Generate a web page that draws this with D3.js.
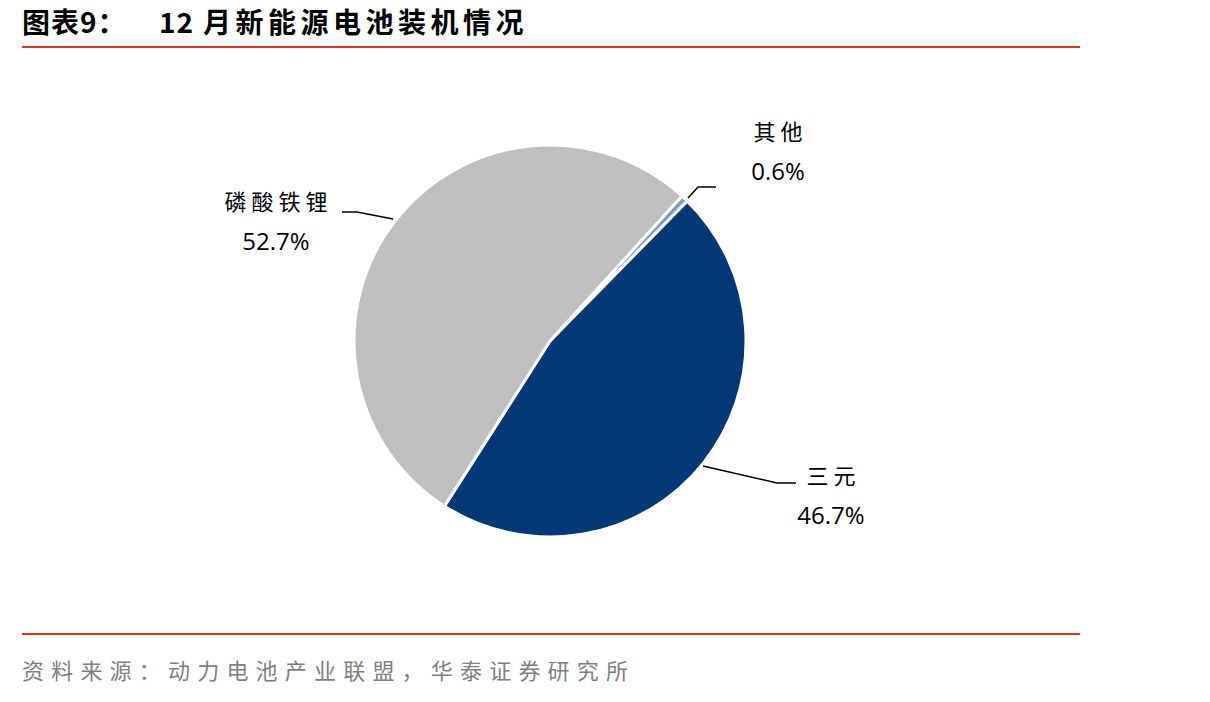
<!DOCTYPE html>
<html><head><meta charset="utf-8">
<script src="https://cdn.jsdelivr.net/npm/d3@7"></script>
<style>body{margin:0;background:#fff;} svg{display:block;}</style>
</head><body>
<svg id="c" width="1210" height="702"></svg>
<script>
const categories = ["其他", "三元", "磷酸铁锂"];
const values = [0.6, 46.7, 52.7];
const labels = ["0.6%", "46.7%", "52.7%"];
const colors = ["#7F9CC0", "#003878", "#BFBFBF"];
const titleParts = ["图表9：", "12", "月新能源电池装机情况"];
const source = "资料来源：动力电池产业联盟，华泰证券研究所";

const svg = d3.select("#c");
const cx = 550, cy = 341, r = 196;
const start = 42.3 * Math.PI / 180;

// title
const tx = [22, 159, 203], tls = [1, 1, 4.5];
titleParts.forEach((t, i) => svg.append("text").attr("x", tx[i]).attr("y", 33)
  .attr("font-family", "'Noto Sans CJK SC', sans-serif").attr("font-weight", "bold")
  .attr("font-size", 28).attr("letter-spacing", tls[i]).attr("fill", "#000").text(t));
svg.append("line").attr("x1", 22).attr("x2", 1080).attr("y1", 47).attr("y2", 47)
  .attr("stroke", "#E8321E").attr("stroke-width", 2);
svg.append("line").attr("x1", 22).attr("x2", 1080).attr("y1", 634).attr("y2", 634)
  .attr("stroke", "#E8321E").attr("stroke-width", 2);
svg.append("text").attr("x", 22).attr("y", 679)
  .attr("font-family", "'Noto Sans CJK SC', sans-serif")
  .attr("font-size", 22).attr("letter-spacing", 7.2).attr("fill", "#7F7F7F").text(source);

const pie = d3.pie().sort(null).value(d => d).startAngle(start).endAngle(start + 2 * Math.PI);
const arcs = pie(values);
const arc = d3.arc().innerRadius(0).outerRadius(r);
const g = svg.append("g").attr("transform", `translate(${cx},${cy})`);
g.selectAll("path").data(arcs).join("path")
  .attr("d", arc).attr("fill", (d, i) => colors[i])
  .attr("stroke", "#fff").attr("stroke-width", 3).attr("stroke-linejoin", "round");

// leader lines and labels
const leaders = [
  [[688, 198], [698, 187], [716, 187]],
  [[703, 466], [777, 483], [796, 483]],
  [[393, 219], [357, 212], [342, 212]]
];
const labelPos = [[778, 130], [831, 474], [276, 200]];
const line = d3.line();
leaders.forEach(p => svg.append("path").attr("d", line(p)).attr("fill", "none")
  .attr("stroke", "#000").attr("stroke-width", 1.5));
categories.forEach((c, i) => {
  const [x, y] = labelPos[i];
  svg.append("text").attr("x", x + 2.5).attr("y", y).attr("text-anchor", "middle")
    .attr("dominant-baseline", "central")
    .attr("font-family", "'Noto Sans CJK SC', sans-serif").attr("font-size", 22)
    .attr("letter-spacing", 5).attr("fill", "#000").text(c);
  svg.append("text").attr("x", x).attr("y", y + 40).attr("text-anchor", "middle")
    .attr("dominant-baseline", "central")
    .attr("font-family", "'Open Sans', sans-serif").attr("font-size", 24)
    .attr("fill", "#000").text(labels[i]);
});
</script>
</body></html>
